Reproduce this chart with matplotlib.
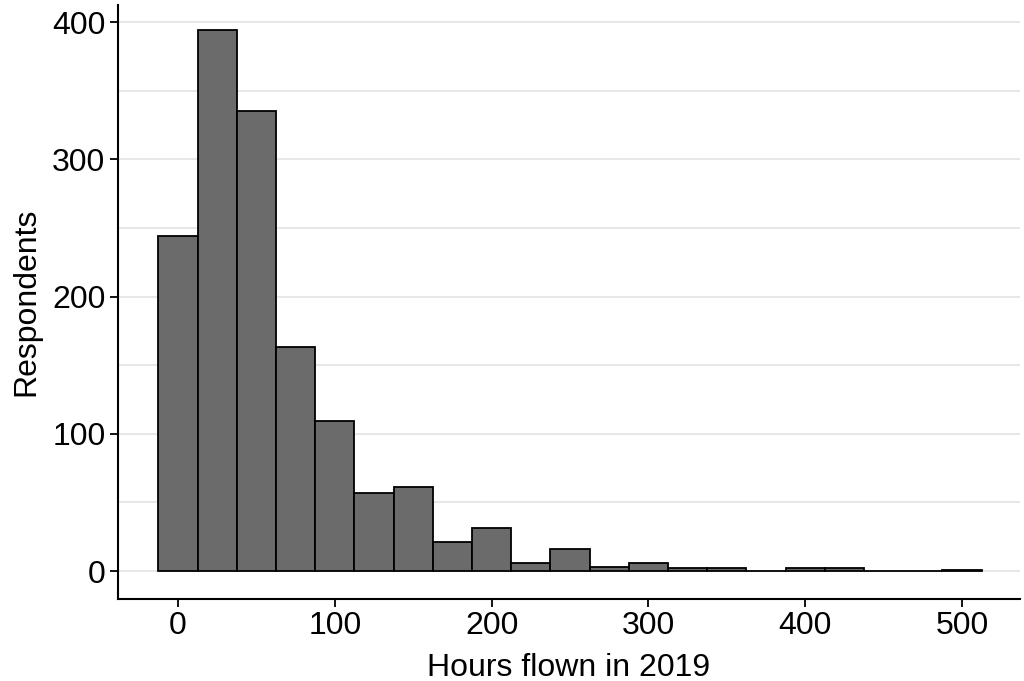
import matplotlib
matplotlib.use("Agg")
import matplotlib.pyplot as plt
import numpy as np

plt.rcParams['font.family'] = ['Liberation Sans', 'DejaVu Sans']

bin_centers = [0, 25, 50, 75, 100, 125, 150, 175, 200, 225, 250, 275, 300, 325, 350, 375, 400, 425, 450, 475, 500]
counts = [244, 394, 335, 163, 109, 57, 61, 21, 31, 6, 16, 3, 6, 2, 2, 0, 2, 2, 0, 0, 1]
bin_width = 25
x_ticks = [0, 100, 200, 300, 400, 500]
y_ticks = [0, 100, 200, 300, 400]

fig = plt.figure(figsize=(10.24, 6.81), dpi=100)
ax = fig.add_axes([118/1024, 1-599/681, (1020-118)/1024, (599-5)/681])

for y in np.arange(0, 451, 50):
    ax.axhline(y, color='#e3e3e3', lw=1.2, zorder=0)

ax.bar(bin_centers, counts, width=bin_width, color='#6b6b6b', edgecolor='black', linewidth=1.3, zorder=2)

ax.set_xlim(-38.3, 537)
ax.set_ylim(-20.4, 412.4)
ax.set_xticks(x_ticks)
ax.set_yticks(y_ticks)
ax.tick_params(labelsize=23, length=6, width=1.3, color='black', pad=3)
for s in ['top', 'right']:
    ax.spines[s].set_visible(False)
for s in ['left', 'bottom']:
    ax.spines[s].set_linewidth(1.5)
ax.set_xlabel('Hours flown in 2019', fontsize=23, labelpad=8)
ax.set_ylabel('Respondents', fontsize=23, labelpad=8)

fig.savefig('out.png', dpi=100)
